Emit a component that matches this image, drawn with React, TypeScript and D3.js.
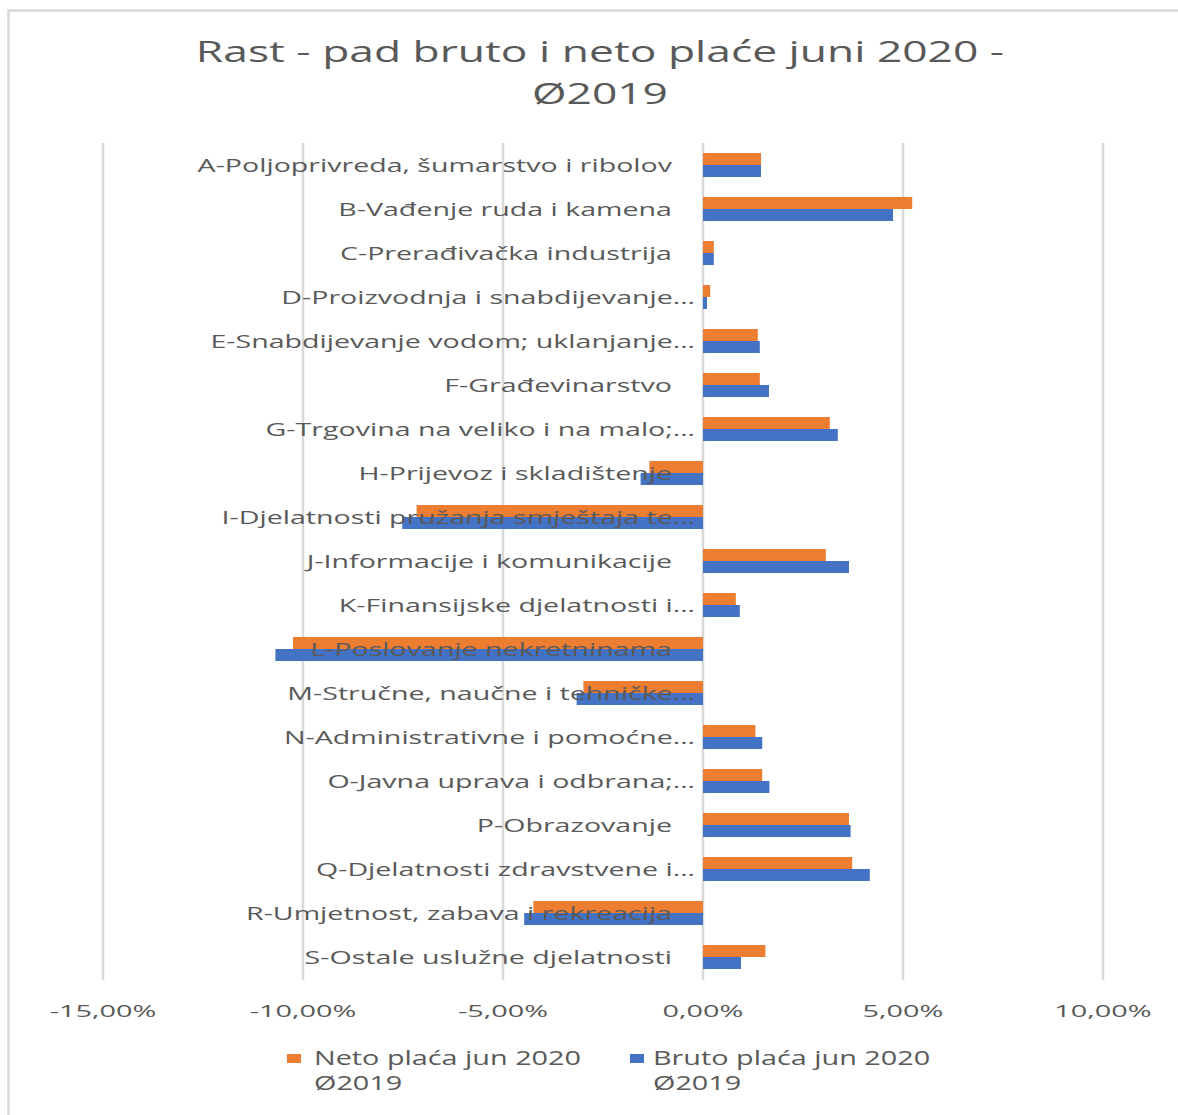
import React from "react";
import * as d3 from "d3";

const categories = [
  "A-Poljoprivreda, šumarstvo i ribolov",
  "B-Vađenje ruda i kamena",
  "C-Prerađivačka industrija",
  "D-Proizvodnja i snabdijevanje…",
  "E-Snabdijevanje vodom; uklanjanje…",
  "F-Građevinarstvo",
  "G-Trgovina na veliko i na malo;…",
  "H-Prijevoz i skladištenje",
  "I-Djelatnosti pružanja smještaja te…",
  "J-Informacije i komunikacije",
  "K-Finansijske djelatnosti i…",
  "L-Poslovanje nekretninama",
  "M-Stručne, naučne i tehničke…",
  "N-Administrativne i pomoćne…",
  "O-Javna uprava i odbrana;…",
  "P-Obrazovanje",
  "Q-Djelatnosti zdravstvene i…",
  "R-Umjetnost, zabava i rekreacija",
  "S-Ostale uslužne djelatnosti",
];

const netoValues = [
  0.0145, 0.0523, 0.0027, 0.0018, 0.0137, 0.0142, 0.0317, -0.0134, -0.0716,
  0.0307, 0.0082, -0.1025, -0.0299, 0.0131, 0.0148, 0.0365, 0.0373, -0.0424,
  0.0156,
];

const brutoValues = [
  0.0145, 0.0475, 0.0027, 0.001, 0.0142, 0.0165, 0.0337, -0.0156, -0.0752,
  0.0365, 0.0092, -0.1069, -0.0316, 0.0148, 0.0166, 0.0369, 0.0417, -0.0447,
  0.0095,
];

const xTicks = [-0.15, -0.1, -0.05, 0, 0.05, 0.1];

const seriesNames = ["Neto plaća jun 2020", "Bruto plaća jun 2020"];
const seriesSub = ["Ø2019", "Ø2019"];
const titleLines = ["Rast - pad bruto i neto plaće juni 2020 -", "Ø2019"];

const ORANGE = "#ED7D31";
const BLUE = "#4472C4";
const TEXT = "#595959";
const GRID = "#D9D9D9";
const FONT = "'Open Sans', 'Noto Sans', sans-serif";

const SX_TITLE = 1.53;
const SX_CAT = 1.545;
const SX_TICK = 1.76;
const SX_LEG = 1.47;

export default function App() {
  const width = 1178;
  const height = 1115;
  const x = d3.scaleLinear().domain([-0.15, 0.1]).range([103, 1103]);
  const y = d3
    .scaleBand<string>()
    .domain(categories)
    .range([143, 979])
    .paddingInner(20 / 44)
    .paddingOuter(10 / 44);
  const bw = y.bandwidth() / 2;
  const fmt = (v: number) =>
    (v * 100).toFixed(2).replace(".", ",").replace("-0,00", "0,00") + "%";

  const legendItems = [
    { color: ORANGE, sq: 287, tx: 314 },
    { color: BLUE, sq: 630, tx: 653 },
  ];

  return (
    <svg
      width={width}
      height={height}
      style={{ position: "absolute", left: 0, top: 0, background: "#fff" }}
    >
      <rect x={0} y={0} width={width} height={height} fill="#fff" />
      <rect
        x={8.5}
        y={10.5}
        width={1300}
        height={1200}
        fill="#fff"
        stroke="#D9D9D9"
        strokeWidth={2.5}
      />
      {titleLines.map((t, i) => (
        <text
          key={i}
          transform={`translate(600,${62 + i * 42}) scale(${SX_TITLE},1)`}
          textAnchor="middle"
          fontFamily={FONT}
          fontSize={29}
          fill={TEXT}
        >
          {t}
        </text>
      ))}
      {xTicks.map((t) => (
        <line
          key={t}
          x1={x(t)}
          x2={x(t)}
          y1={143}
          y2={980}
          stroke={GRID}
          strokeWidth={2.5}
        />
      ))}
      {categories.map((c, i) => (
        <g key={c}>
          <rect
            x={Math.min(x(0), x(netoValues[i]))}
            y={y(c)!}
            width={Math.abs(x(netoValues[i]) - x(0))}
            height={bw}
            fill={ORANGE}
          />
          <rect
            x={Math.min(x(0), x(brutoValues[i]))}
            y={y(c)! + bw}
            width={Math.abs(x(brutoValues[i]) - x(0))}
            height={bw}
            fill={BLUE}
          />
        </g>
      ))}
      {categories.map((c) => (
        <text
          key={c}
          transform={`translate(${c.endsWith("…") ? 695 : 672},${y(c)! + y.bandwidth() / 2 + 6.6}) scale(${SX_CAT},1)`}
          textAnchor="end"
          fontFamily={FONT}
          fontSize={18.5}
          fill={TEXT}
        >
          {c}
        </text>
      ))}
      {xTicks.map((t) => (
        <text
          key={t}
          transform={`translate(${x(t)},1017) scale(${SX_TICK},1)`}
          textAnchor="middle"
          fontFamily={FONT}
          fontSize={16.4}
          fill={TEXT}
        >
          {fmt(t)}
        </text>
      ))}
      {legendItems.map((l, i) => (
        <g key={i}>
          <rect x={l.sq} y={1054} width={14} height={9} fill={l.color} />
          <text
            transform={`translate(${l.tx},1065) scale(${SX_LEG},1)`}
            fontFamily={FONT}
            fontSize={19.6}
            fill={TEXT}
          >
            {seriesNames[i]}
          </text>
          <text
            transform={`translate(${l.tx},1090) scale(${SX_LEG},1)`}
            fontFamily={FONT}
            fontSize={19.6}
            fill={TEXT}
          >
            {seriesSub[i]}
          </text>
        </g>
      ))}
    </svg>
  );
}
